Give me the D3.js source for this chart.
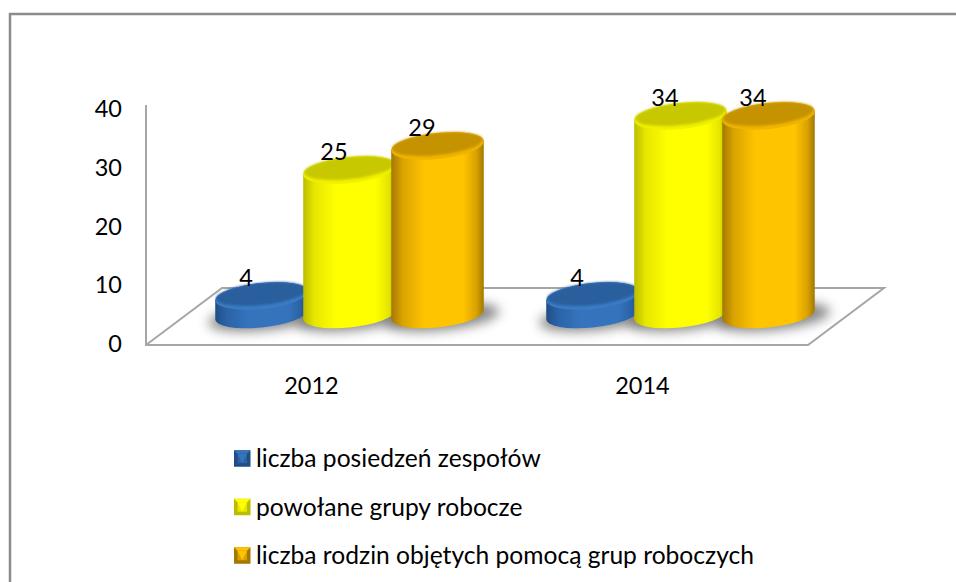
<!doctype html>
<html lang="pl">
<head>
    <meta charset="UTF-8">
    <title>Zespoły i grupy robocze</title>
    <style>
        html, body { margin: 0; padding: 0; background: #fff; }
        svg { display: block; }
        text { font-family: Lato, "Open Sans", sans-serif; fill: #000; }
    </style>
</head>
<body>
<div class="chart"></div>

<script src="https://d3js.org/d3.v7.min.js"></script>
<script>
    const years = ['2012', '2014']
    const seriesNames = ['liczba posiedzeń zespołów', 'powołane grupy robocze', 'liczba rodzin objętych pomocą grup roboczych']
    const posiedzenia = [4, 4]
    const grupy = [25, 34]
    const rodziny = [29, 34]
    const yTicks = [0, 10, 20, 30, 40]

    // one palette per series: dark edge, mid, bright, top face, top rim
    const palettes = [
        {id: 'blue', edge: '#1f4d84', mid: '#2a62a6', bright: '#3574bc', top: '#2a5f9e', rim: '#3a7cc4'},
        {id: 'yellow', edge: '#bcbc00', mid: '#e6e600', bright: '#ffff00', top: '#c8c800', rim: '#f0f000'},
        {id: 'orange', edge: '#a37800', mid: '#d9a200', bright: '#ffc400', top: '#c69300', rim: '#f0b400'}
    ]

    const width = 956, height = 582
    const floor = {left: 146, right: 808, front: 345, dx: 76, dy: 57}
    const cyl = {rx: 46.5, ry: 13, tilt: -6, base: 314.5, lift: 25}

    const numberSize = '23.5px'
    const legendSize = '24.6px'

    const svg = d3.select('.chart').append('svg')
        .attr('width', width)
        .attr('height', height)

    const defs = svg.append('defs')
    defs.append('filter').attr('id', 'blur')
        .attr('x', '-30%').attr('y', '-100%').attr('width', '160%').attr('height', '300%')
        .append('feGaussianBlur').attr('stdDeviation', 6)
    defs.append('filter').attr('id', 'soft')
        .attr('x', '-5%').attr('y', '-20%').attr('width', '110%').attr('height', '140%')
        .append('feGaussianBlur').attr('stdDeviation', 1)

    palettes.forEach(function(p) {
        const g = defs.append('linearGradient').attr('id', 'body-' + p.id)
        const stops = [[0, p.edge], [0.12, p.mid], [0.36, p.bright], [0.78, p.bright], [0.92, p.mid], [1, p.edge]]
        stops.forEach(s => g.append('stop').attr('offset', s[0]).attr('stop-color', s[1]))
    })

    // outer frame, open on the right
    svg.append('path')
        .attr('d', `M10 582 V14 H956`)
        .attr('fill', 'none')
        .attr('stroke', '#8c8c8c')
        .attr('stroke-width', 2.5)

    // scales
    const yScale = d3.scaleLinear().domain([0, 40]).range([floor.front, floor.front - 240])
    const labelScale = d3.scaleLinear().domain([0, 40]).range([344, 109])
    const xScale = d3.scaleBand().domain(years).range([floor.left, floor.right])
    const seriesScale = d3.scalePoint().domain(d3.range(3)).range([-88, 88])

    // floor and back wall edge
    svg.append('path')
        .attr('d', `M${floor.left} ${yScale(40)} V${floor.front} H${floor.right} L${floor.right + floor.dx} ${floor.front - floor.dy} H${floor.left + floor.dx} L${floor.left} ${floor.front}`)
        .attr('fill', 'none')
        .attr('stroke', '#a6a6a6')
        .attr('stroke-width', 2)

    // y axis labels
    const yAxis = d3.axisLeft(labelScale).tickValues(yTicks).tickSize(0).tickPadding(0)
    const yG = svg.append('g')
        .attr('transform', `translate(122,0)`)
        .call(yAxis)
    yG.select('.domain').remove()
    yG.selectAll('text').style('font-size', numberSize).attr('fill', '#000')

    // x axis labels
    const xAxis = d3.axisBottom(xScale).tickSize(0).tickPadding(0)
    const xG = svg.append('g')
        .attr('transform', `translate(0,377)`)
        .call(xAxis)
    xG.select('.domain').remove()
    xG.selectAll('text').style('font-size', numberSize).attr('fill', '#000')

    // cylinders
    const allSeries = [posiedzenia, grupy, rodziny]
    const rad = cyl.tilt * Math.PI / 180
    const extentX = Math.sqrt(Math.pow(cyl.rx * Math.cos(rad), 2) + Math.pow(cyl.ry * Math.sin(rad), 2))
    const extentDy = (Math.pow(cyl.rx, 2) - Math.pow(cyl.ry, 2)) * Math.sin(rad) * Math.cos(rad) / extentX

    const marks = []
    years.forEach(function(year, i) {
        allSeries.forEach(function(values, s) {
            marks.push({
                year: year,
                series: s,
                value: values[i],
                cx: xScale(year) + xScale.bandwidth() / 2 + floor.dx / 2 + seriesScale(s)
            })
        })
    })

    // shadows go first so that no cylinder is covered by them
    svg.append('g').selectAll('ellipse')
        .data(marks)
        .enter().append('ellipse')
        .attr('cx', d => d.cx + 4)
        .attr('cy', cyl.base + 3)
        .attr('rx', cyl.rx + 11)
        .attr('ry', cyl.ry)
        .attr('transform', d => `rotate(${cyl.tilt} ${d.cx} ${cyl.base})`)
        .attr('fill', '#666')
        .attr('opacity', 0.8)
        .attr('filter', 'url(#blur)')

    const bars = svg.append('g').selectAll('g')
        .data(marks)
        .enter().append('g')

    const topY = d => yScale(d.value) - cyl.lift

    bars.append('path')
        .attr('d', function(d) {
            const x0 = d.cx - extentX, x1 = d.cx + extentX
            return `M${x0} ${topY(d) - extentDy} L${x0} ${cyl.base - extentDy}` +
                ` A${cyl.rx} ${cyl.ry} ${cyl.tilt} 0 0 ${x1} ${cyl.base + extentDy}` +
                ` L${x1} ${topY(d) + extentDy} A${cyl.rx} ${cyl.ry} ${cyl.tilt} 0 0 ${x0} ${topY(d) - extentDy} Z`
        })
        .attr('fill', d => `url(#body-${palettes[d.series].id})`)

    bars.append('ellipse')
        .attr('cx', d => d.cx)
        .attr('cy', topY)
        .attr('rx', cyl.rx)
        .attr('ry', cyl.ry)
        .attr('transform', d => `rotate(${cyl.tilt} ${d.cx} ${topY(d)})`)
        .attr('fill', d => palettes[d.series].rim)

    bars.append('ellipse')
        .attr('cx', d => d.cx)
        .attr('cy', d => topY(d) - 2)
        .attr('rx', cyl.rx - 1)
        .attr('ry', cyl.ry - 2)
        .attr('transform', d => `rotate(${cyl.tilt} ${d.cx} ${topY(d)})`)
        .attr('fill', d => palettes[d.series].top)
        .attr('filter', 'url(#soft)')

    // value labels
    svg.append('g').selectAll('text')
        .data(marks)
        .enter().append('text')
        .attr('x', d => d.cx - 15.5)
        .attr('y', d => topY(d) - 18)
        .attr('dy', '0.35em')
        .attr('text-anchor', 'middle')
        .style('font-size', numberSize)
        .text(d => d.value)

    // legend
    const legendY = d3.scalePoint().domain(seriesNames).range([458.5, 555.5])
    const swatch = 16.5
    const legend = svg.append('g').selectAll('g')
        .data(seriesNames)
        .enter().append('g')
        .attr('transform', d => `translate(234,${legendY(d)})`)

    legend.each(function(name, i) {
        const g = d3.select(this)
        const p = palettes[i]
        const h = swatch / 2
        const b = 3.5
        g.append('rect').attr('y', -h).attr('width', swatch).attr('height', swatch).attr('fill', p.edge)
        g.append('path').attr('d', `M0 ${-h} H${swatch} L${swatch - b} ${-h + b} H${b} Z`).attr('fill', p.bright)
        g.append('rect').attr('x', b).attr('y', -h + b).attr('width', swatch - 2 * b).attr('height', swatch - 2 * b).attr('fill', p.mid)
        g.append('path').attr('d', `M${b} ${-h + b} H${swatch - b} L${h} ${h - b} Z`).attr('fill', p.bright)
        g.append('text')
            .attr('x', 22)
            .attr('dy', '0.35em')
            .style('font-size', legendSize)
            .text(name)
    })
</script>
</body>
</html>
